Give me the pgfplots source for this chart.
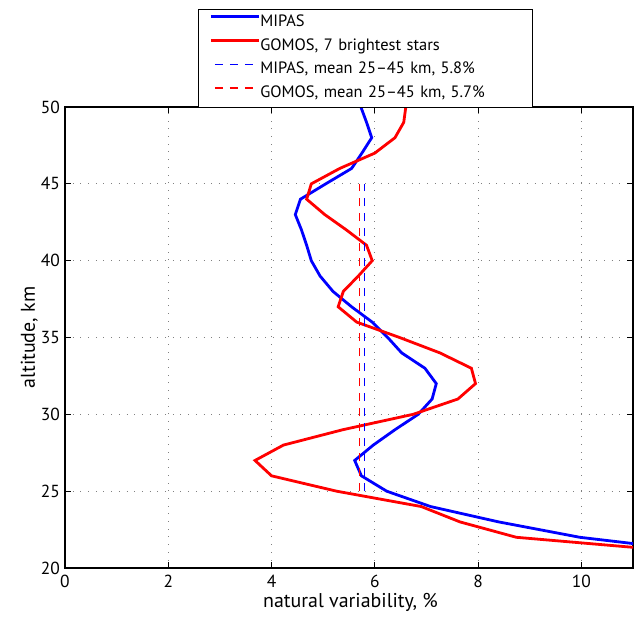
\documentclass[border=0pt]{standalone}
\usepackage{fontspec}
\setmainfont{PT Sans}
\usepackage{pgfplots}
\pgfplotsset{compat=1.18}
\begin{document}
\begin{tikzpicture}
\begin{axis}[
  scale only axis, width=568bp, height=461bp,
  xmin=0, xmax=11, ymin=20, ymax=50,
  xtick={0,2,...,10}, ytick={20,25,...,50},
  /pgf/number format/assume math mode=true,
  tick align=inside, xtick pos=both, ytick pos=both,
  major tick length=6bp,
  tick style={black, line width=0.8bp},
  axis line style={line width=1.3bp},
  grid=major,
  major grid style={gray, line width=0.7bp, dash pattern=on 0.8bp off 6.9bp},
  tick label style={font=\fontsize{17.5}{20}\selectfont},
  xticklabel style={yshift=-4bp},
  yticklabel style={xshift=-1.5bp},
  xlabel={natural variability, \%},
  ylabel={altitude, km},
  xlabel style={font=\fontsize{20}{24}\selectfont, at={(axis description cs:0.5026,-0.0846)}, anchor=base},
  ylabel style={font=\fontsize{20}{24}\selectfont, at={(axis description cs:-0.0528,0.5)}, anchor=base},
  legend cell align=left,
  legend style={at={(axis description cs:0.529,1.0)}, anchor=south,
    font=\fontsize{16.5}{19}\selectfont,
    row sep=7.8bp, inner xsep=11bp, inner ysep=5bp,
    nodes={inner sep=0bp, text height=12bp, text depth=4bp},
    /tikz/column 2/.style={nodes={text width=261bp, align=left}}},
  legend image code/.code={\draw[#1, dash phase=11bp] (0bp,5.5bp) -- (48bp,5.5bp);},
]
\addplot[blue, solid, line width=2.8bp] coordinates {
(5.73,50) (5.84,49) (5.94,48) (5.75,47) (5.55,46) (5.05,45) (4.56,44) (4.46,43)
(4.58,42) (4.68,41) (4.77,40) (4.94,39) (5.19,38) (5.55,37) (5.95,36) (6.25,35)
(6.52,34) (6.97,33) (7.19,32) (7.11,31) (6.84,30) (6.39,29) (5.97,28) (5.61,27)
(5.74,26) (6.23,25) (7.08,24) (8.4,23) (9.97,22) (12.5,21)
};
\addlegendentry{MIPAS}
\addplot[red, solid, line width=2.8bp] coordinates {
(6.6,50) (6.56,49) (6.39,48) (6.0,47) (5.32,46) (4.77,45) (4.68,44) (5.03,43)
(5.45,42) (5.84,41) (5.95,40) (5.68,39) (5.39,38) (5.29,37) (5.65,36) (6.48,35)
(7.26,34) (7.87,33) (7.95,32) (7.61,31) (6.74,30) (5.38,29) (4.23,28) (3.68,27)
(4.0,26) (5.26,25) (6.9,24) (7.65,23) (8.74,22) (12.2,21)
};
\addlegendentry{GOMOS, 7 brightest stars}
\addplot[blue, line width=1.6bp, dash pattern=on 8bp off 7bp] coordinates {(5.8,25) (5.8,45)};
\addlegendentry{MIPAS, mean 25--45 km, 5.8\%}
\addplot[red, line width=1.6bp, dash pattern=on 8bp off 7bp] coordinates {(5.7,25) (5.7,45)};
\addlegendentry{GOMOS, mean 25--45 km, 5.7\%}
\coordinate (bl) at (axis description cs:-0.1144,-0.1041);
\coordinate (tr) at (axis description cs:1.0035,1.2321);
\end{axis}
\pgfresetboundingbox
\useasboundingbox (bl) rectangle (tr);
\end{tikzpicture}
\end{document}
